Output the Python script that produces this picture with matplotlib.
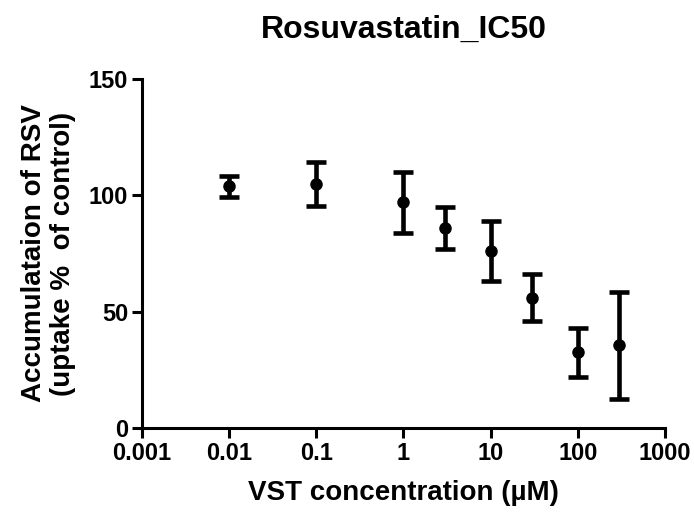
import matplotlib.pyplot as plt
from matplotlib.ticker import FixedLocator, FixedFormatter, NullLocator

plt.rcParams['font.family'] = ['Liberation Sans', 'DejaVu Sans']
plt.rcParams['font.weight'] = 'bold'

# data
conc = [0.01, 0.1, 1, 3, 10, 30, 100, 300]
uptake = [104, 105, 97, 86, 76, 56, 32.5, 35.5]
sem = [4.5, 9.5, 13, 9, 13, 10, 10.5, 23]

xticks = [0.001, 0.01, 0.1, 1, 10, 100, 1000]
xtick_labels = ['0.001', '0.01', '0.1', '1', '10', '100', '1000']
yticks = [0, 50, 100, 150]

fig = plt.figure(figsize=(6.94, 5.17), dpi=100)
ax = fig.add_axes([0.2046, 0.1721, 0.7536, 0.675])

ax.errorbar(conc, uptake, yerr=sem, fmt='o', color='black', ms=8,
            elinewidth=3.3, capsize=7, capthick=3.3)

ax.set_xscale('log')
ax.set_xlim(0.001, 1000)
ax.set_ylim(0, 150)
ax.xaxis.set_major_locator(FixedLocator(xticks))
ax.xaxis.set_major_formatter(FixedFormatter(xtick_labels))
ax.xaxis.set_minor_locator(NullLocator())
ax.set_yticks(yticks)

for side in ['top', 'right']:
    ax.spines[side].set_visible(False)
for side in ['left', 'bottom']:
    ax.spines[side].set_linewidth(2.2)
ax.tick_params(width=2.2, length=7, labelsize=17, pad=3)

ax.set_title('Rosuvastatin_IC50', fontsize=23, fontweight='bold', pad=30)
ax.set_xlabel('VST concentration (\u00b5M)', fontsize=20, fontweight='bold', labelpad=11)
ax.set_ylabel('Accumulataion of RSV\n(uptake %  of control)', fontsize=20,
              fontweight='bold', labelpad=9, linespacing=1.15)

fig.savefig('out.png', dpi=100)
